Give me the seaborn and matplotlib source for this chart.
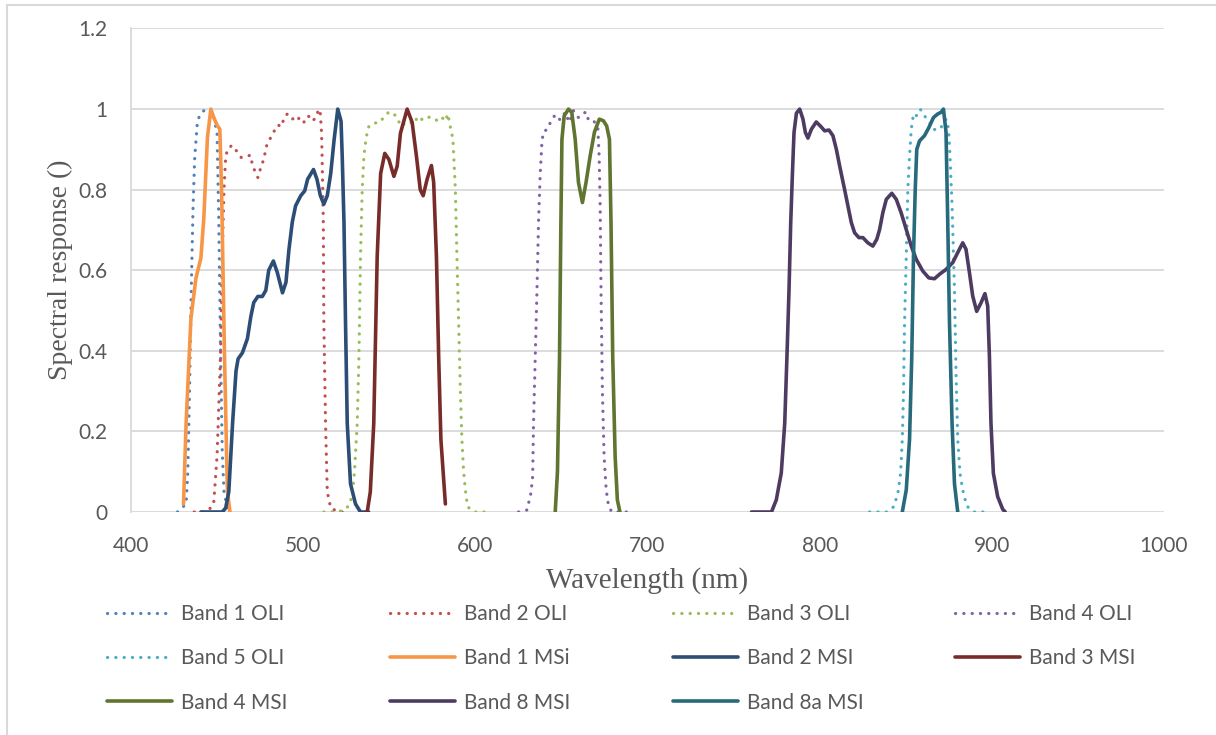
import matplotlib
matplotlib.use("Agg")
import matplotlib.pyplot as plt
import seaborn as sns
import pandas as pd
from matplotlib.patches import Rectangle

# ---- spectral response curves (wavelength in nm, relative response) ----
b1_oli_x = [427, 432, 433, 434, 435, 436, 437, 438.6, 440, 442, 444, 446, 448, 450, 451, 452, 453, 454, 456, 459.5]
b1_oli_y = [0, 0.02, 0.1, 0.3, 0.55, 0.75, 0.88, 0.97, 0.985, 0.995, 1.0, 1.0, 0.98, 0.94, 0.72, 0.4, 0.15, 0.05, 0.01, 0]

b2_oli_x = [436.7, 441.5, 446.4, 448, 450, 452, 453, 454, 455, 456, 458.6, 461.5, 464, 467, 469.6, 470.5, 472,
            473.7, 475.4, 477, 479, 481, 483, 485, 488, 488.5, 490.8, 493.7, 496.6, 499, 501.4, 503, 505.5, 508,
            508.8, 510, 510.7, 511, 511.7, 512, 513, 514, 516, 520.6, 525.6]
b2_oli_y = [0, 0, 0.01, 0.02, 0.14, 0.39, 0.63, 0.8, 0.88, 0.9, 0.91, 0.895, 0.88, 0.884, 0.885, 0.86, 0.846,
            0.83, 0.855, 0.874, 0.913, 0.928, 0.944, 0.96, 0.958, 0.976, 0.988, 0.975, 0.983, 0.965, 0.97, 0.983,
            0.97, 0.983, 1.0, 0.988, 0.94, 0.88, 0.72, 0.47, 0.22, 0.05, 0.01, 0, 0]

b3_oli_x = [512, 517.8, 522.6, 526.5, 528.5, 529.8, 531.4, 532.4, 533.3, 534.3, 535.3, 536.6, 538.2, 541, 544.5,
            546.9, 549.8, 552, 554.6, 556.5, 561.3, 564.2, 566.7, 569.4, 572, 575.4, 578.3, 580.7, 582.6, 584,
            585.5, 587, 588.4, 589.3, 590.3, 591.3, 592.2, 593.2, 594.2, 595.5, 599.4, 604, 609]
b3_oli_y = [0, 0, 0.003, 0.015, 0.04, 0.1, 0.22, 0.386, 0.635, 0.8, 0.884, 0.93, 0.958, 0.965, 0.967,
            0.98, 0.993, 0.99, 0.98, 0.958, 0.97, 0.963, 0.982, 0.973, 0.98, 0.979, 0.97, 0.979, 0.97, 0.988,
            0.955, 0.925, 0.8, 0.635, 0.47, 0.3, 0.18, 0.1, 0.055, 0.013, 0, 0, 0]

b4_oli_x = [625.1, 630, 632.3, 633.3, 633.8, 634.8, 635.8, 636.7, 637.7, 638.7, 639.6, 641.9, 643.9, 646.4,
            649.3, 652.2, 654.5, 657, 659.9, 662.4, 664.3, 665.7, 668.2, 671.1, 671.9, 672.5, 673, 673.8, 674.8,
            676, 677.3, 679.2, 684.4, 689.4]
b4_oli_y = [0, 0.005, 0.047, 0.088, 0.22, 0.386, 0.55, 0.72, 0.84, 0.92, 0.944, 0.95, 0.97, 0.986,
            0.973, 0.992, 0.967, 0.996, 0.979, 0.988, 0.993, 0.973, 0.973, 0.958, 0.884, 0.76, 0.552, 0.3, 0.138,
            0.055, 0.017, 0, 0, 0]

b5_oli_x = [829, 833.8, 838.7, 843, 845.4, 847, 848, 848.7, 849.3, 850.3, 851.2, 852.2, 853.2, 854.5, 856.1,
            858.4, 860.9, 863.8, 865.7, 869, 871.1, 873.4, 874.8, 875.7, 876.9, 878.3, 879.2, 880.2, 881.5,
            883.1, 885.4, 889.5, 894, 898.9]
b5_oli_y = [0, 0, 0, 0.013, 0.046, 0.096, 0.18, 0.3, 0.47, 0.635, 0.8, 0.884, 0.95, 0.988, 0.983,
            1.0, 0.983, 0.968, 0.95, 0.948, 0.958, 0.975, 0.952, 0.884, 0.76, 0.552, 0.345, 0.18, 0.096,
            0.055, 0.015, 0, 0, 0]

b1_msi_x = [430.5, 432, 434.8, 437.7, 440.6, 442.3, 444.4, 446.4, 448, 450, 451.6, 452.6, 454.3, 456, 457.5]
b1_msi_y = [0.02, 0.22, 0.48, 0.58, 0.63, 0.73, 0.93, 1.0, 0.98, 0.96, 0.95, 0.8, 0.39, 0.05, 0]

b2_msi_x = [440.6, 447, 453, 455, 456.8, 459, 461, 462.2, 464.7, 467.6, 469.6, 471.3, 473.7, 476.3, 478.3, 480,
            482.7, 485, 488, 490, 491.7, 493.7, 495.6, 498.6, 500.9, 502.6, 506, 508, 510, 512, 514, 516, 518,
            520.1, 522, 522.7, 523.7, 524.6, 525.6, 527.5, 530.4, 533.3, 538]
b2_msi_y = [0, 0, 0, 0.01, 0.05, 0.22, 0.35, 0.38, 0.395, 0.43, 0.485, 0.52, 0.535, 0.535, 0.55, 0.6,
            0.623, 0.594, 0.544, 0.57, 0.65, 0.72, 0.76, 0.785, 0.797, 0.826, 0.85, 0.826, 0.785, 0.764, 0.785,
            0.84, 0.925, 1.0, 0.97, 0.88, 0.72, 0.47, 0.22, 0.07, 0.02, 0, 0]

b3_msi_x = [537.2, 539, 541, 543, 545, 547.4, 549.8, 552.7, 554.6, 556.5, 560.4, 563.3, 565.8, 568, 569.7,
            572, 574.5, 575.8, 577.4, 578.7, 580, 582.6]
b3_msi_y = [0, 0.05, 0.22, 0.635, 0.84, 0.89, 0.875, 0.833, 0.858, 0.94, 1.0, 0.967, 0.883, 0.8, 0.785,
            0.826, 0.86, 0.818, 0.635, 0.386, 0.18, 0.02]

b4_msi_x = [646.4, 647.7, 648.9, 649.7, 650.3, 651.6, 654.1, 656, 658, 659.9, 662.2, 664.3, 666.7, 669.2, 672,
            674.4, 676.3, 677.9, 678.8, 679.8, 681.2, 682.5, 684]
b4_msi_y = [0, 0.1, 0.386, 0.72, 0.925, 0.983, 1.0, 0.992, 0.925, 0.818, 0.768, 0.818, 0.884, 0.943, 0.975,
            0.971, 0.958, 0.925, 0.72, 0.386, 0.138, 0.03, 0]

b8_msi_x = [760.4, 763.3, 772, 774.8, 777.7, 779.7, 781, 782.2, 783.2, 784.2, 785.1, 786.5, 788.4, 790.3, 791.7,
            793.2, 795.2, 798, 800.4, 802.9, 805.4, 807.7, 809.7, 811.6, 814.5, 816.4, 818.4, 820.3, 822.8, 825.1,
            828, 830.9, 833.2, 834.8, 836.7, 838.7, 841.9, 844.5, 847.3, 850.3, 853.2, 856.1, 859.9, 863.4,
            866.7, 869.6, 873.4, 877.3, 880.2, 883.1, 885, 887, 888.9, 891.2, 893.7, 896, 897.6, 898.6, 899.5,
            900.9, 903.4, 906.3, 907.8]
b8_msi_y = [0, 0, 0, 0.03, 0.097, 0.22, 0.386, 0.552, 0.72, 0.843, 0.942, 0.99, 1.0, 0.975, 0.942,
            0.928, 0.95, 0.968, 0.958, 0.946, 0.948, 0.934, 0.9, 0.859, 0.8, 0.76, 0.718, 0.693, 0.681, 0.681,
            0.668, 0.66, 0.677, 0.701, 0.743, 0.776, 0.791, 0.776, 0.743, 0.701, 0.66, 0.627, 0.598, 0.581,
            0.579, 0.59, 0.602, 0.619, 0.644, 0.668, 0.652, 0.594, 0.536, 0.498, 0.519, 0.542, 0.511, 0.386, 0.22,
            0.096, 0.038, 0.007, 0]

b8a_msi_x = [848, 850.3, 852.2, 853.5, 854.5, 855.5, 856.4, 858, 860.9, 863.4, 866.1, 868.6, 870.5, 871.9,
             873.4, 874.4, 875.4, 876.9, 878.3, 880.2]
b8a_msi_y = [0, 0.055, 0.18, 0.386, 0.635, 0.8, 0.9, 0.921, 0.934, 0.954, 0.979, 0.988, 0.992, 1.0,
             0.942, 0.718, 0.47, 0.22, 0.07, 0]

series = [
    ("Band 1 OLI", b1_oli_x, b1_oli_y, "#4F81BD", "dot"),
    ("Band 2 OLI", b2_oli_x, b2_oli_y, "#C0504D", "dot"),
    ("Band 3 OLI", b3_oli_x, b3_oli_y, "#9BBB59", "dot"),
    ("Band 4 OLI", b4_oli_x, b4_oli_y, "#8064A2", "dot"),
    ("Band 5 OLI", b5_oli_x, b5_oli_y, "#4BACC6", "dot"),
    ("Band 1 MSi", b1_msi_x, b1_msi_y, "#F79646", "solid"),
    ("Band 2 MSI", b2_msi_x, b2_msi_y, "#2C4D75", "solid"),
    ("Band 3 MSI", b3_msi_x, b3_msi_y, "#772C2A", "solid"),
    ("Band 4 MSI", b4_msi_x, b4_msi_y, "#5F7530", "solid"),
    ("Band 8 MSI", b8_msi_x, b8_msi_y, "#4D3B62", "solid"),
    ("Band 8a MSI", b8a_msi_x, b8a_msi_y, "#276A7C", "solid"),
]

x_ticks = [400, 500, 600, 700, 800, 900, 1000]
y_ticks = [0, 0.2, 0.4, 0.6, 0.8, 1.0, 1.2]
y_tick_labels = ["0", "0.2", "0.4", "0.6", "0.8", "1", "1.2"]

# legend columns, each read top to bottom
legend_columns = [
    ["Band 1 OLI", "Band 5 OLI", "Band 4 MSI"],
    ["Band 2 OLI", "Band 1 MSi", "Band 8 MSI"],
    ["Band 3 OLI", "Band 2 MSI", "Band 8a MSI"],
    ["Band 4 OLI", "Band 3 MSI"],
]

sns.set_theme(style="white")
plt.rcParams["font.family"] = ["Lato", "DejaVu Sans"]

W, H = 1216, 735
fig = plt.figure(figsize=(W / 100, H / 100), dpi=100)
ax = fig.add_axes([131 / W, 1 - 512 / H, (1164 - 131) / W, (512 - 28.5) / H])

# outer chart frame
fig.patches.append(Rectangle((7 / W, -0.1), 1.2, 1 - 5 / H + 0.1, transform=fig.transFigure,
                             fill=False, edgecolor="#D9D9D9", linewidth=1.5, zorder=0))

handles = {}
for name, xs, ys, color, style in series:
    df = pd.DataFrame({"wl": xs, "resp": ys})
    sns.lineplot(data=df, x="wl", y="resp", ax=ax, color=color, sort=False,
                 estimator=None, label=name, legend=False, zorder=3)
    line = ax.lines[-1]
    if style == "dot":
        line.set_linewidth(2.3)
        line.set_linestyle((0, (0.05, 2.55)))
        line.set_dash_capstyle("round")
    else:
        line.set_linewidth(2.6)
        line.set_solid_capstyle("round")
        line.set_solid_joinstyle("round")
    handles[name] = line

ax.set_xlim(400, 1000)
ax.set_ylim(0, 1.2)
ax.set_xticks(x_ticks)
ax.set_xticklabels([str(t) for t in x_ticks])
ax.set_yticks(y_ticks)
ax.set_yticklabels(y_tick_labels)
ax.tick_params(axis="both", length=0, labelsize=15, labelcolor="#595959")
ax.tick_params(axis="y", pad=17)
ax.tick_params(axis="x", pad=17)
ax.yaxis.grid(True, color="#D9D9D9", linewidth=1.3, zorder=0)
ax.xaxis.grid(False)
for side in ["top", "right", "bottom"]:
    ax.spines[side].set_visible(False)
ax.spines["left"].set_color("#D9D9D9")
ax.spines["left"].set_linewidth(1.3)
ax.set_axisbelow(True)

serif = ["Liberation Serif", "DejaVu Serif"]
ax.set_xlabel("Wavelength (nm)", fontsize=21, color="#595959", family=serif, labelpad=8)
ax.set_ylabel("Spectral response ()", fontsize=20, color="#595959", family=serif, labelpad=4)

# four one-column legends placed at evenly spaced column positions
col_x = [107, 390, 673, 955]
for cx, names in zip(col_x, legend_columns):
    leg = fig.legend([handles[n] for n in names], names, loc="upper left",
                     bbox_to_anchor=((cx - 8.3) / W, 1 - 596 / H), borderaxespad=0,
                     frameon=False, fontsize=15, handlelength=3.1, handletextpad=0.45,
                     labelspacing=1.16, labelcolor="#595959")

fig.savefig("out.png", dpi=100)
